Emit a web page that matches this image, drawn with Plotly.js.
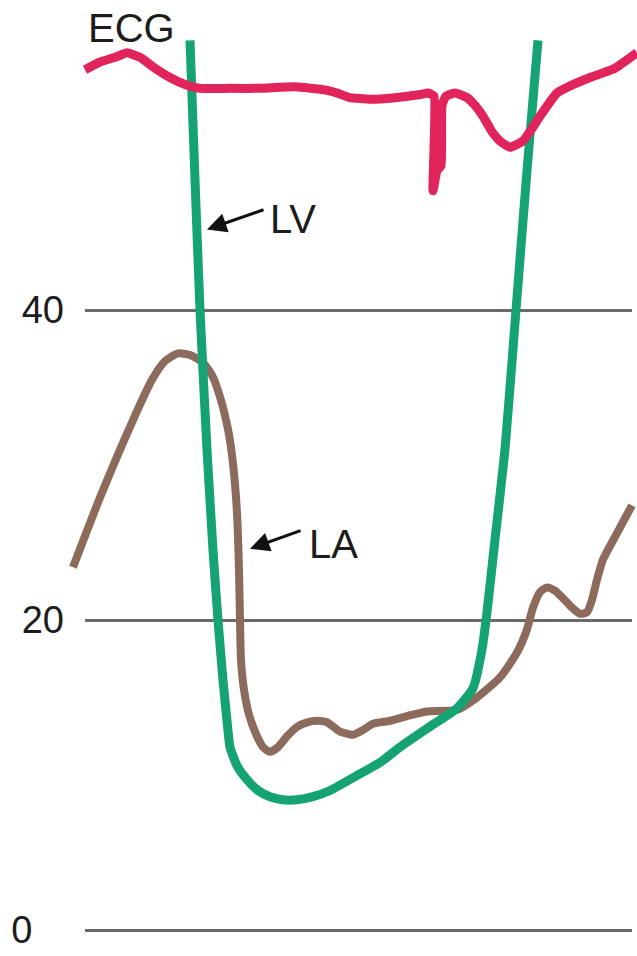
<!DOCTYPE html>
<html>
<head>
<meta charset="utf-8">
<script src="https://cdn.plot.ly/plotly-3.0.1.min.js"></script>
<style>html,body{margin:0;padding:0;background:#fff;}#chart{width:637px;height:956px;}</style>
</head>
<body>
<div id="chart"></div>
<script>
// time axis (arbitrary units across the cardiac cycle) and pressures in mmHg
const lvTime = [190,195,200,207,213,218,223,227,230,237,247,258,270,283,297,313,330,355,380,400,427,457,473,482,487,495,505,516,527,538];
const lvPressure = [57.4,48.4,40.0,31.0,24.5,20.0,16.1,13.5,11.8,10.6,9.7,9.0,8.6,8.4,8.4,8.6,9.0,9.9,10.8,11.8,13.0,14.3,15.6,18.1,20.5,25.2,31.0,40.0,49.0,57.4];

const laTime = [73,100,133,152,165,178,190,203,212,220,228,233,237,239,240,241,244,249,257,263,270,278,287,297,307,317,327,340,353,363,373,390,407,427,457,477,500,517,527,533,540,547,555,563,572,580,587,592,597,603,617,632];
const laPressure = [23.4,27.9,32.9,35.5,36.7,37.2,37.1,36.6,35.8,34.4,32.3,30.1,26.9,23.2,20.0,17.4,15.5,13.9,12.5,11.8,11.5,11.8,12.5,13.1,13.4,13.5,13.4,12.8,12.6,12.9,13.3,13.5,13.8,14.1,14.2,15.0,16.3,17.9,19.4,20.8,21.8,22.1,21.9,21.4,20.8,20.4,20.5,21.3,22.6,23.9,25.6,27.4];

const ecgTime = [85,100,115,127,140,155,170,187,200,230,260,295,325,337,350,370,395,420,428,434,433,437,441,442,446,455,467,475,483,492,500,510,523,532,540,557,575,590,615,637];
const ecgSignal = [55.5,56.0,56.3,56.6,56.3,55.6,55.0,54.5,54.3,54.3,54.3,54.4,54.2,54.0,53.7,53.6,53.7,53.9,54.0,53.8,47.7,49.0,49.3,53.2,53.8,54.0,53.7,53.2,52.5,51.5,50.9,50.5,50.9,51.7,52.5,54.0,54.6,55.0,55.6,56.6];

const tickValues = [0, 20, 40];
const tickLabels = ['0\u00a0\u00a0\u00a0', '20', '40'];

const traceLabels = {ecg: 'ECG', lv: 'LV', la: 'LA'};

const colors = {lv: '#16a374', la: '#8c6a5c', ecg: '#e1245b', grid: '#6a6a6a', text: '#1c1c1c'};
const yRange = [-1.677, 60];
const font = 'Liberation Sans, Arial, sans-serif';

const data = [
  {x: [], y: [], xaxis: 'x', yaxis: 'y', type: 'scatter', showlegend: false, hoverinfo: 'skip'},
  {x: laTime, y: laPressure, xaxis: 'x2', yaxis: 'y2', type: 'scatter', mode: 'lines',
   line: {color: colors.la, width: 8, shape: 'spline', smoothing: 0.6}, showlegend: false, name: traceLabels.la},
  {x: lvTime, y: lvPressure, xaxis: 'x2', yaxis: 'y2', type: 'scatter', mode: 'lines',
   line: {color: colors.lv, width: 9, shape: 'spline', smoothing: 0.5}, showlegend: false, name: traceLabels.lv},
  {x: ecgTime, y: ecgSignal, xaxis: 'x2', yaxis: 'y2', type: 'scatter', mode: 'lines',
   line: {color: colors.ecg, width: 9, shape: 'spline', smoothing: 0.4}, showlegend: false, name: traceLabels.ecg}
];

const layout = {
  width: 637, height: 956,
  margin: {l: 0, r: 0, t: 0, b: 0, pad: 0},
  paper_bgcolor: '#ffffff', plot_bgcolor: 'rgba(0,0,0,0)',
  showlegend: false,
  xaxis: {domain: [85/637, 632/637], range: [0, 1], visible: false, fixedrange: true},
  yaxis: {range: yRange, tickvals: tickValues, ticktext: tickLabels, showgrid: true,
          gridcolor: colors.grid, gridwidth: 3, zeroline: false, showline: false, ticks: '',
          ticklabelstandoff: 20, tickfont: {family: font, size: 38, color: colors.text}, fixedrange: true},
  xaxis2: {domain: [0, 1], range: [0, 637], visible: false, anchor: 'y2', fixedrange: true},
  yaxis2: {range: yRange, visible: false, anchor: 'x2', overlaying: 'y', fixedrange: true},
  annotations: [
    {xref: 'x2', yref: 'y2', x: 86, y: 58.2, text: traceLabels.ecg, showarrow: false, xanchor: 'left', yanchor: 'middle',
     font: {family: font, size: 40, color: colors.text}},
    {xref: 'x2', yref: 'y2', x: 268, y: 45.9, text: traceLabels.lv, showarrow: false, xanchor: 'left', yanchor: 'middle',
     font: {family: font, size: 40, color: colors.text}},
    {xref: 'x2', yref: 'y2', x: 307, y: 24.9, text: traceLabels.la, showarrow: false, xanchor: 'left', yanchor: 'middle',
     font: {family: font, size: 40, color: colors.text}},
    {xref: 'x2', yref: 'y2', x: 207, y: 45.2, axref: 'x2', ayref: 'y2', ax: 265, ay: 46.5, text: '',
     showarrow: true, arrowhead: 2, arrowsize: 1.3, arrowwidth: 3, arrowcolor: '#111', standoff: 0, startstandoff: 0},
    {xref: 'x2', yref: 'y2', x: 250, y: 24.6, axref: 'x2', ayref: 'y2', ax: 302, ay: 25.8, text: '',
     showarrow: true, arrowhead: 2, arrowsize: 1.3, arrowwidth: 3, arrowcolor: '#111', standoff: 0, startstandoff: 0}
  ]
};

Plotly.newPlot('chart', data, layout, {displayModeBar: false, staticPlot: true});
</script>
</body>
</html>
